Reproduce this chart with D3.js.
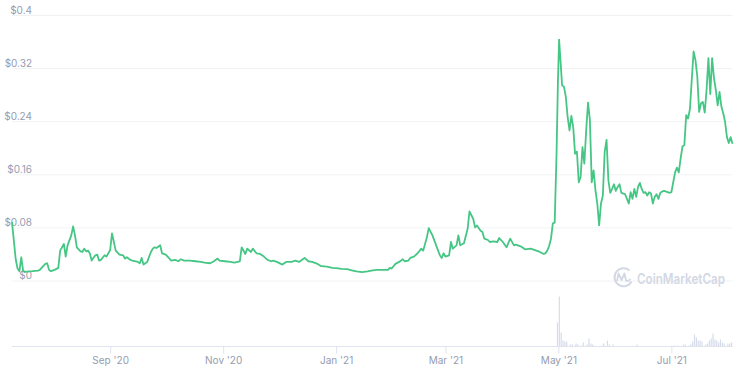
<!DOCTYPE html>
<html>
<head>
<meta charset="utf-8">
<script src="https://cdn.jsdelivr.net/npm/d3@7"></script>
<style>
  body { margin: 0; background: #fff; }
  svg { display: block; font-family: Inter, "Noto Sans", sans-serif; }
</style>
</head>
<body>
<script>
// prezzo giornaliero (USD)
const priceDates = [
  "2020-07-10","2020-07-11","2020-07-12","2020-07-13","2020-07-14","2020-07-15","2020-07-16","2020-07-17","2020-07-18","2020-07-21",
  "2020-07-24","2020-07-25","2020-07-26","2020-07-28","2020-07-29","2020-07-30","2020-07-31","2020-08-02","2020-08-04","2020-08-05",
  "2020-08-07","2020-08-08","2020-08-09","2020-08-11","2020-08-12","2020-08-13","2020-08-14","2020-08-16","2020-08-17","2020-08-18",
  "2020-08-19","2020-08-20","2020-08-21","2020-08-22","2020-08-24","2020-08-25","2020-08-26","2020-08-27","2020-08-29","2020-08-30",
  "2020-09-01","2020-09-02","2020-09-03","2020-09-04","2020-09-06","2020-09-08","2020-09-09","2020-09-10","2020-09-12","2020-09-13",
  "2020-09-16","2020-09-17","2020-09-18","2020-09-19","2020-09-21","2020-09-23","2020-09-24","2020-09-25","2020-09-26","2020-09-28",
  "2020-09-29","2020-10-01","2020-10-03","2020-10-04","2020-10-06","2020-10-08","2020-10-09","2020-10-11","2020-10-14","2020-10-17",
  "2020-10-20","2020-10-22","2020-10-25","2020-10-27","2020-10-29","2020-10-30","2020-11-02","2020-11-05","2020-11-07","2020-11-10",
  "2020-11-11","2020-11-13","2020-11-14","2020-11-16","2020-11-17","2020-11-19","2020-11-21","2020-11-23","2020-11-25","2020-11-27",
  "2020-11-28","2020-11-30","2020-12-03","2020-12-05","2020-12-08","2020-12-10","2020-12-12","2020-12-14","2020-12-15","2020-12-17",
  "2020-12-19","2020-12-22","2020-12-24","2020-12-27","2020-12-30","2021-01-01","2021-01-04","2021-01-07","2021-01-10","2021-01-12",
  "2021-01-15","2021-01-18","2021-01-20","2021-01-23","2021-01-26","2021-01-29","2021-01-30","2021-01-31","2021-02-02","2021-02-04",
  "2021-02-06","2021-02-07","2021-02-09","2021-02-10","2021-02-12","2021-02-14","2021-02-16","2021-02-17","2021-02-19","2021-02-20",
  "2021-02-22","2021-02-24","2021-02-26","2021-02-27","2021-02-28","2021-03-01","2021-03-03","2021-03-04","2021-03-05","2021-03-07",
  "2021-03-08","2021-03-09","2021-03-11","2021-03-13","2021-03-14","2021-03-16","2021-03-17","2021-03-18","2021-03-20","2021-03-21",
  "2021-03-22","2021-03-24","2021-03-25","2021-03-27","2021-03-29","2021-03-30","2021-04-01","2021-04-03","2021-04-05","2021-04-07",
  "2021-04-08","2021-04-11","2021-04-13","2021-04-16","2021-04-18","2021-04-21","2021-04-23","2021-04-24","2021-04-25","2021-04-26",
  "2021-04-27","2021-04-28","2021-04-29","2021-04-30","2021-04-30 18:00","2021-05-01 09:00","2021-05-02","2021-05-03","2021-05-04","2021-05-05",
  "2021-05-06","2021-05-07","2021-05-08","2021-05-09","2021-05-10","2021-05-11","2021-05-12","2021-05-13","2021-05-14","2021-05-15",
  "2021-05-16","2021-05-17","2021-05-18","2021-05-19","2021-05-20","2021-05-21","2021-05-22","2021-05-23","2021-05-24","2021-05-25",
  "2021-05-26","2021-05-27","2021-05-28","2021-05-29","2021-05-30","2021-05-31","2021-06-01","2021-06-02","2021-06-03","2021-06-04",
  "2021-06-06","2021-06-07","2021-06-08","2021-06-09","2021-06-10","2021-06-11","2021-06-12","2021-06-13","2021-06-14","2021-06-15",
  "2021-06-16","2021-06-17","2021-06-18","2021-06-19","2021-06-20","2021-06-21","2021-06-22","2021-06-23","2021-06-24","2021-06-25",
  "2021-06-26","2021-06-27","2021-06-29","2021-06-30","2021-07-01","2021-07-02","2021-07-03","2021-07-04","2021-07-05","2021-07-06",
  "2021-07-07","2021-07-08","2021-07-09","2021-07-10","2021-07-11","2021-07-12","2021-07-13","2021-07-14","2021-07-15","2021-07-16",
  "2021-07-17","2021-07-18","2021-07-19","2021-07-20","2021-07-21","2021-07-22","2021-07-23","2021-07-24","2021-07-25","2021-07-26",
  "2021-07-27","2021-07-28","2021-07-29","2021-07-30","2021-07-31","2021-08-01","2021-08-02","2021-08-03"
];
const prices = [
  0.088,0.060,0.032,0.018,0.014,0.035,0.015,0.013,0.0135,0.014,
  0.015,0.016,0.019,0.025,0.026,0.016,0.014,0.016,0.019,0.045,
  0.055,0.036,0.053,0.068,0.0815,0.068,0.050,0.044,0.043,0.048,
  0.044,0.045,0.041,0.030,0.038,0.039,0.030,0.031,0.038,0.036,
  0.046,0.071,0.058,0.045,0.039,0.038,0.033,0.035,0.031,0.030,
  0.028,0.026,0.034,0.024,0.028,0.043,0.048,0.050,0.049,0.053,
  0.041,0.039,0.033,0.030,0.031,0.029,0.032,0.030,0.030,0.029,
  0.028,0.027,0.026,0.029,0.033,0.030,0.029,0.028,0.027,0.029,
  0.050,0.040,0.048,0.043,0.048,0.041,0.040,0.036,0.031,0.029,
  0.030,0.028,0.024,0.028,0.028,0.030,0.028,0.032,0.034,0.029,
  0.028,0.025,0.0216,0.021,0.019,0.0186,0.0176,0.017,0.015,0.0136,
  0.0125,0.0136,0.015,0.016,0.016,0.016,0.019,0.018,0.025,0.028,
  0.032,0.029,0.030,0.034,0.036,0.041,0.048,0.045,0.065,0.079,
  0.068,0.053,0.038,0.034,0.041,0.036,0.038,0.058,0.048,0.053,
  0.068,0.053,0.056,0.078,0.104,0.093,0.080,0.083,0.075,0.073,
  0.063,0.061,0.058,0.059,0.058,0.064,0.058,0.050,0.063,0.053,
  0.054,0.051,0.047,0.048,0.046,0.043,0.040,0.041,0.045,0.052,
  0.063,0.086,0.087,0.191,0.300,0.363,0.337,0.294,0.292,0.277,
  0.246,0.226,0.248,0.231,0.191,0.194,0.148,0.156,0.201,0.176,
  0.226,0.268,0.242,0.148,0.166,0.136,0.116,0.083,0.116,0.128,
  0.194,0.212,0.151,0.132,0.138,0.145,0.135,0.141,0.145,0.132,
  0.130,0.123,0.116,0.133,0.123,0.138,0.126,0.141,0.147,0.138,
  0.132,0.133,0.128,0.133,0.131,0.116,0.126,0.130,0.123,0.132,
  0.134,0.135,0.133,0.132,0.133,0.148,0.163,0.170,0.163,0.184,
  0.202,0.204,0.249,0.244,0.258,0.302,0.345,0.332,0.307,0.254,
  0.267,0.269,0.253,0.287,0.335,0.281,0.335,0.305,0.287,0.264,
  0.284,0.262,0.252,0.239,0.216,0.207,0.216,0.206
];

// volume (milioni USD)
const volumeDates = [
  "2021-04-30","2021-05-01","2021-05-02","2021-05-03","2021-05-04","2021-05-05","2021-05-07","2021-05-08","2021-05-10","2021-05-11",
  "2021-05-13","2021-05-14","2021-05-16","2021-05-17","2021-05-18","2021-05-19","2021-05-24","2021-05-25","2021-05-27","2021-05-28",
  "2021-05-30","2021-06-12","2021-07-02","2021-07-04","2021-07-07","2021-07-08","2021-07-10","2021-07-11","2021-07-12","2021-07-13",
  "2021-07-14","2021-07-15","2021-07-16","2021-07-17","2021-07-19","2021-07-20","2021-07-21","2021-07-22","2021-07-23","2021-07-24",
  "2021-07-25","2021-07-26","2021-07-27","2021-07-28","2021-07-29","2021-07-31","2021-08-01","2021-08-02"
];
const volumes = [
  24,50,14,6,5,5,2,2,3,2,
  1,4,2,8,3,2,1,3,6,2,
  2,2,1,1,2,2,1,2,5,12,
  9,6,6,5,2,3,6,8,13,7,
  6,4,7,4,3,3,3,4
];

const yTicks = [0, 0.08, 0.16, 0.24, 0.32, 0.4];
const xTickDates = ["2020-09-01","2020-11-01","2021-01-01","2021-03-01","2021-05-01","2021-07-01"];
const xTickLabels = ["Sep '20","Nov '20","Jan '21","Mar '21","May '21","Jul '21"];

const larghezza = 747, altezza = 375;
const area = { sinistra: 12, destra: 732.5, alto: 15, basso: 280.5, baseVolume: 346.5, altoVolume: 296.5 };

const leggiData = s => d3.utcParse(s.length > 10 ? "%Y-%m-%d %H:%M" : "%Y-%m-%d")(s);

const dati = priceDates.map((d, i) => ({ data: leggiData(d), valore: prices[i] }));
const datiVolume = volumeDates.map((d, i) => ({ data: leggiData(d), valore: volumes[i] }));

const scalaTempo = d3.scaleUtc()
  .domain([leggiData("2020-07-10"), leggiData("2021-08-03")])
  .range([area.sinistra, area.destra]);

const scalaPrezzo = d3.scaleLinear()
  .domain([0, 0.4])
  .range([area.basso, area.alto]);

const scalaVolume = d3.scaleLinear()
  .domain([0, 50])
  .range([area.baseVolume, area.altoVolume]);

const svg = d3.select("body").append("svg")
  .attr("width", larghezza)
  .attr("height", altezza);

// griglia e etichette asse y
const asseY = d3.axisLeft(scalaPrezzo)
  .tickValues(yTicks)
  .tickSize(area.destra - area.sinistra)
  .tickFormat(d => "$" + d3.format("~g")(d));

const gY = svg.append("g")
  .attr("transform", `translate(${area.destra},0)`)
  .call(asseY);
gY.select(".domain").remove();
gY.selectAll(".tick line").attr("stroke", "#eff2f5");
gY.selectAll(".tick text")
  .attr("x", 32 - area.destra)
  .attr("y", -2)
  .attr("dy", 0)
  .attr("fill", "#959cb0")
  .attr("font-size", 10)
  .attr("font-family", "Inter, 'Noto Sans', sans-serif");

// watermark
const marchio = svg.append("g").attr("fill", "none").attr("stroke", "#d3d8e4");
marchio.append("path")
  .attr("stroke-width", 2)
  .attr("d", "M631.5,281.5 A9,9 0 1 1 629.5,270.5");
marchio.append("path")
  .attr("stroke-width", 1.8)
  .attr("stroke-linejoin", "round")
  .attr("d", "M617,281 L618.5,273.5 L621.5,280 L624.5,273.5 L626,280.5 Q628,282 630.5,279");
svg.append("text")
  .attr("x", 637)
  .attr("y", 283.5)
  .attr("font-size", 14)
  .attr("font-weight", 600)
  .attr("textLength", 88)
  .attr("lengthAdjust", "spacingAndGlyphs")
  .attr("fill", "#d3d8e4")
  .text("CoinMarketCap");

// barre volume
svg.append("g")
  .selectAll("line")
  .data(datiVolume)
  .join("line")
  .attr("x1", d => scalaTempo(d3.utcHour.offset(d.data, 12)))
  .attr("x2", d => scalaTempo(d3.utcHour.offset(d.data, 12)))
  .attr("y1", area.baseVolume)
  .attr("y2", d => scalaVolume(d.valore))
  .attr("stroke", "#d6dcea")
  .attr("stroke-width", 1.2);

// asse x
const asseX = d3.axisBottom(scalaTempo)
  .tickValues(xTickDates.map(leggiData))
  .tickSize(7)
  .tickPadding(3)
  .tickFormat((d, i) => xTickLabels[i]);

const gX = svg.append("g")
  .attr("transform", `translate(0,${area.baseVolume})`)
  .call(asseX);
gX.select(".domain").attr("stroke", "#dfe4ef").attr("d", `M${area.sinistra},0H${area.destra}`);
gX.selectAll(".tick line").attr("stroke", "#dfe4ef");
gX.selectAll(".tick text")
  .attr("fill", "#959cb0")
  .attr("font-size", 10)
  .attr("font-family", "Inter, 'Noto Sans', sans-serif");

// linea prezzo
const linea = d3.line()
  .x(d => scalaTempo(d.data))
  .y(d => scalaPrezzo(d.valore));

svg.append("path")
  .datum(dati)
  .attr("fill", "none")
  .attr("stroke", "#45c684")
  .attr("stroke-width", 1.8)
  .attr("stroke-linejoin", "round")
  .attr("d", linea);
</script>
</body>
</html>
